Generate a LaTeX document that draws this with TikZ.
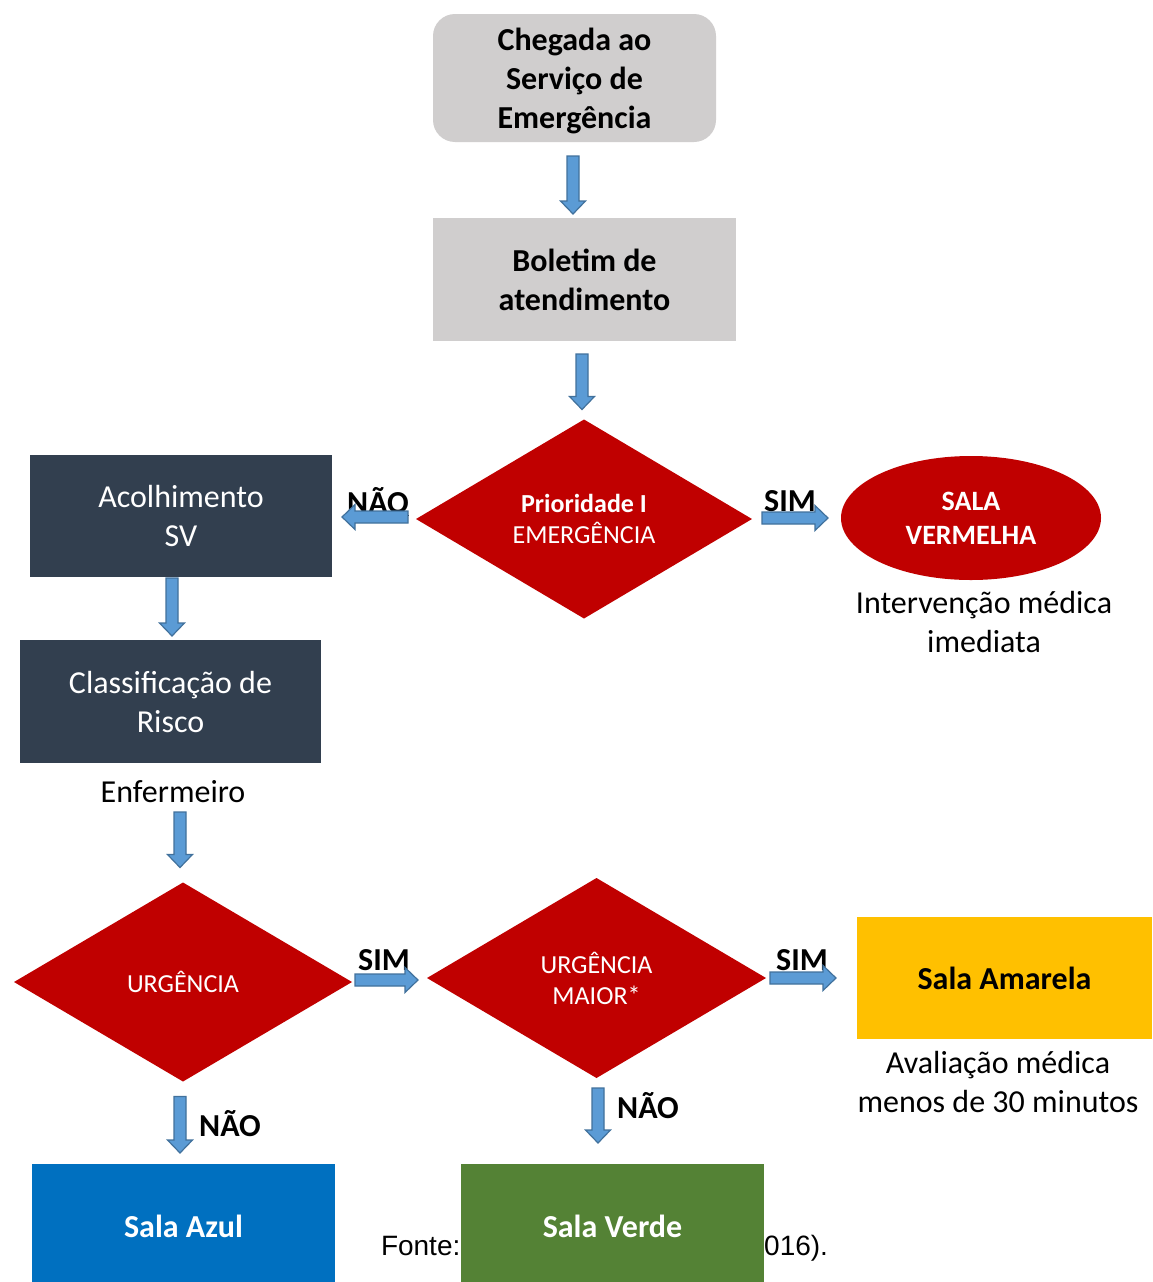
\documentclass[tikz,border=0pt]{standalone}
\usepackage{fontspec}
\setmainfont{Carlito}
\newfontfamily\arialf{Liberation Sans}
\usetikzlibrary{shapes.geometric,calc}
\definecolor{boxgray}{HTML}{D0CECE}
\definecolor{slate}{HTML}{323F4F}
\definecolor{redd}{HTML}{C00000}
\definecolor{amar}{HTML}{FFC000}
\definecolor{azulc}{HTML}{0070C0}
\definecolor{verdec}{HTML}{548235}
\definecolor{arrowfill}{HTML}{5B9BD5}
\definecolor{arrowline}{HTML}{41719C}
\newcommand\fs[2]{\fontsize{#1}{#2}\selectfont}
\newcommand\blkdown[2]{\path[blk] let \p1=(#1), \p2=(#2) in
  (\x1-6pt,\y1) -- (\x1+6pt,\y1) -- (\x1+6pt,\y2+13pt) -- (\x1+12.5pt,\y2+13pt)
  -- (\x1,\y2) -- (\x1-12.5pt,\y2+13pt) -- (\x1-6pt,\y2+13pt) -- cycle;}
\newcommand\blkright[2]{\path[blk] let \p1=(#1), \p2=(#2) in
  (\x1,\y1-6pt) -- (\x1,\y1+6pt) -- (\x2-13pt,\y1+6pt) -- (\x2-13pt,\y1+12.5pt)
  -- (\x2,\y1) -- (\x2-13pt,\y1-12.5pt) -- (\x2-13pt,\y1-6pt) -- cycle;}
\newcommand\blkleft[2]{\path[blk] let \p1=(#1), \p2=(#2) in
  (\x1,\y1-6pt) -- (\x1,\y1+6pt) -- (\x2+13pt,\y1+6pt) -- (\x2+13pt,\y1+12.5pt)
  -- (\x2,\y1) -- (\x2+13pt,\y1-12.5pt) -- (\x2+13pt,\y1-6pt) -- cycle;}
\tikzset{
  base/.style={inner sep=0pt, outer sep=0pt, align=center},
  graybox/.style={base, rectangle, fill=boxgray, font=\fs{32}{39}\bfseries},
  darkbox/.style={base, rectangle, fill=slate, text=white, font=\fs{32}{39}},
  dia/.style={base, diamond, fill=redd, text=white, font=\fs{26}{31}},
  room/.style={base, rectangle, font=\fs{32}{39}\bfseries},
  note/.style={base, font=\fs{32}{39}},
  yn/.style={base, font=\fs{32}{39}\bfseries},
  blk/.style={draw=arrowline, fill=arrowfill, line width=1.2pt, line join=miter},
}
\begin{document}
\begin{tikzpicture}[x=1pt,y=-1pt]
\useasboundingbox[fill=white] (0,0) rectangle (1152,1282);

% top chain
\node[graybox, rounded corners=22pt, minimum width=283pt, minimum height=128pt, text depth=0pt] (chegada) at (574.5,78) {Chegada ao\\Serviço de\\Emergência};
\node[graybox, minimum width=303pt, minimum height=123pt] (boletim) at (584.5,279.5) {Boletim de\\atendimento};
\node[dia, minimum width=336pt, minimum height=199pt] (d1) at (584,519) {\bfseries Prioridade I\\EMERGÊNCIA};
\node[base, ellipse, fill=redd, text=white, font=\fs{28}{34}\bfseries, minimum width=260pt, minimum height=124pt] (sv) at (971,518) {SALA\\VERMELHA};
\node[note] (svnote) at (984,622) {Intervenção médica\\imediata};

% left chain
\node[darkbox, minimum width=302pt, minimum height=122pt] (acolh) at (181,516) {Acolhimento\\SV};
\node[darkbox, minimum width=301pt, minimum height=123pt] (classif) at (170.5,701.5) {Classificação de\\Risco};
\node[note] (enf) at (173,792) {Enfermeiro};

% second row
\node[dia, minimum width=338pt, minimum height=199pt] (d2) at (183,982) {URGÊNCIA};
\node[dia, minimum width=339pt, minimum height=200pt] (d3) at (596.5,978) {URGÊNCIA\\MAIOR*};
\node[room, fill=amar, minimum width=295pt, minimum height=122pt] (amarela) at (1004.5,978) {Sala Amarela};
\node[note] (amnote) at (998,1082) {Avaliação médica\\menos de 30 minutos};

% source line (partly hidden)
\node[base, font=\arialf\fs{28}{32}, anchor=base west] (fonte1) at (381,1255) {Fonte:};
\node[base, font=\arialf\fs{28}{32}, anchor=base east] (fonte2) at (828,1255) {016).};

% bottom rooms
\node[room, fill=azulc, text=white, minimum width=303pt, minimum height=124pt] (azul) at (183.5,1226) {Sala Azul};
\node[room, fill=verdec, text=white, minimum width=303pt, minimum height=124pt] (verde) at (612.5,1226) {Sala Verde};

% yes / no labels
\node[yn] (nao1) at (378,502) {\underline{NÃO}};
\node[yn] (sim1) at (790,502) {\underline{SIM}};
\node[yn] (sim2) at (384,960) {SIM};
\node[yn] (sim3) at (802,960) {SIM};
\node[yn] (nao2) at (230,1124) {NÃO};
\node[yn] (nao3) at (648,1106) {NÃO};

% block arrows
\blkdown{$(chegada.south)+(-1.5,14)$}{$(boletim.north)+(0,-4)$}
\blkdown{$(boletim.south)+(-2.5,13)$}{$(d1.north)+(0,-10)$}
\blkleft{$(d1.west)+(-8,-2)$}{$(acolh.east)+(10,0)$}
\blkright{$(d1.east)+(10,-1)$}{$(sv.west)+(-13,0)$}
\blkdown{$(acolh.south)+(-9,1)$}{$(classif.north)+(0,-4)$}
\blkdown{$(classif.south)+(9.5,49)$}{$(d2.north)+(0,-15)$}
\blkright{$(d2.east)+(3,-2)$}{$(d3.west)+(-9,0)$}
\blkright{$(d3.east)+(4,0)$}{$(amarela.west)+(-21,0)$}
\blkdown{$(d2.south)+(-3,15)$}{$(azul.north)+(0,-11)$}
\blkdown{$(d3.south)+(1.5,10)$}{$(verde.north)+(0,-21)$}
\end{tikzpicture}
\end{document}
